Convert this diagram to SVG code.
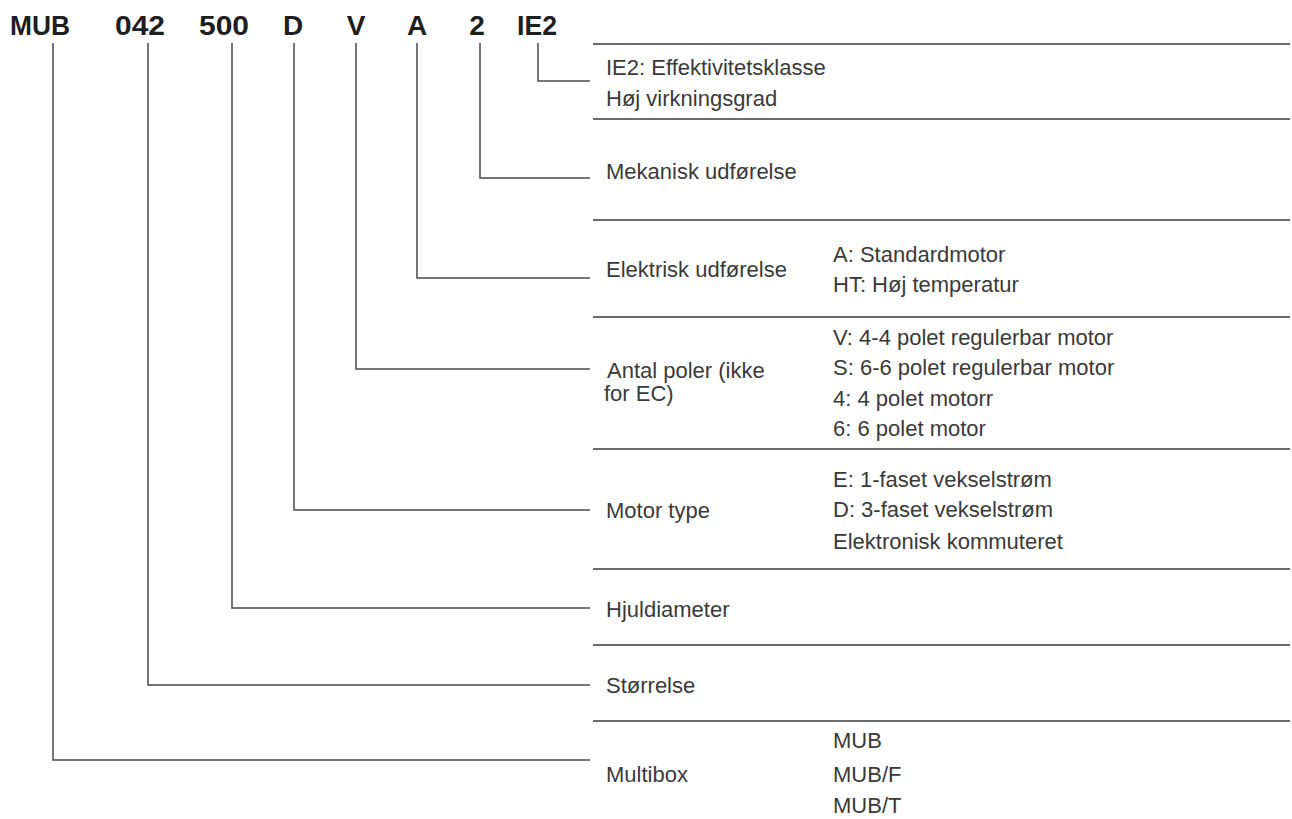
<svg xmlns="http://www.w3.org/2000/svg" width="1292" height="819" viewBox="0 0 1292 819">
<style>
.code{font-family:"Liberation Sans",Arial,sans-serif;font-weight:bold;font-size:28px;fill:#1e1e1e}
.t{font-family:"Liberation Sans",Arial,sans-serif;font-size:22px;fill:#3a3a3a}
.sep{stroke:#3a3a3a;stroke-width:1.6;fill:none}
.con{stroke:#4a4a4a;stroke-width:1.5;fill:none}
</style>
<rect width="1292" height="819" fill="#ffffff"/>
<g id="code">
<text class="code" x="10" y="35" textLength="60" lengthAdjust="spacingAndGlyphs">MUB</text>
<text class="code" x="115" y="35" textLength="50" lengthAdjust="spacingAndGlyphs">042</text>
<text class="code" x="199" y="35" textLength="50" lengthAdjust="spacingAndGlyphs">500</text>
<text class="code" x="293" y="35" text-anchor="middle">D</text>
<text class="code" x="356" y="35" text-anchor="middle">V</text>
<text class="code" x="417" y="35" text-anchor="middle">A</text>
<text class="code" x="477" y="35" text-anchor="middle">2</text>
<text class="code" x="517" y="35" textLength="40" lengthAdjust="spacingAndGlyphs">IE2</text>
</g>
<g id="separators">
<line class="sep" x1="593" y1="44" x2="1290" y2="44"/>
<line class="sep" x1="593" y1="119" x2="1290" y2="119"/>
<line class="sep" x1="593" y1="220" x2="1290" y2="220"/>
<line class="sep" x1="593" y1="317" x2="1290" y2="317"/>
<line class="sep" x1="593" y1="449" x2="1290" y2="449"/>
<line class="sep" x1="593" y1="569" x2="1290" y2="569"/>
<line class="sep" x1="593" y1="645" x2="1290" y2="645"/>
<line class="sep" x1="593" y1="721" x2="1290" y2="721"/>
</g>
<g id="connectors">
<polyline class="con" points="538,43 538,81 590,81"/>
<polyline class="con" points="480,43 480,178 590,178"/>
<polyline class="con" points="417,43 417,278 590,278"/>
<polyline class="con" points="356,43 356,369 590,369"/>
<polyline class="con" points="294,43 294,510 590,510"/>
<polyline class="con" points="232,43 232,608 590,608"/>
<polyline class="con" points="148,43 148,685 590,685"/>
<polyline class="con" points="53,43 53,760 590,760"/>
</g>
<g id="row-ie2">
<text class="t" x="606" y="75">IE2: Effektivitetsklasse</text>
<text class="t" x="606" y="106">Høj virkningsgrad</text>
</g>
<g id="row-mekanisk">
<text class="t" x="606" y="179">Mekanisk udførelse</text>
</g>
<g id="row-elektrisk">
<text class="t" x="606" y="277">Elektrisk udførelse</text>
<text class="t" x="833" y="262">A: Standardmotor</text>
<text class="t" x="833" y="292">HT: Høj temperatur</text>
</g>
<g id="row-poler">
<text class="t" x="607" y="378">Antal poler (ikke</text>
<text class="t" x="604" y="401">for EC)</text>
<text class="t" x="833" y="345">V: 4-4 polet regulerbar motor</text>
<text class="t" x="833" y="375">S: 6-6 polet regulerbar motor</text>
<text class="t" x="833" y="406">4: 4 polet motorr</text>
<text class="t" x="833" y="436">6: 6 polet motor</text>
</g>
<g id="row-motortype">
<text class="t" x="606" y="518">Motor type</text>
<text class="t" x="833" y="487">E: 1-faset vekselstrøm</text>
<text class="t" x="833" y="517">D: 3-faset vekselstrøm</text>
<text class="t" x="833" y="549">Elektronisk kommuteret</text>
</g>
<g id="row-hjul">
<text class="t" x="606" y="617">Hjuldiameter</text>
</g>
<g id="row-storrelse">
<text class="t" x="606" y="693">Størrelse</text>
</g>
<g id="row-multibox">
<text class="t" x="606" y="782">Multibox</text>
<text class="t" x="833" y="748">MUB</text>
<text class="t" x="833" y="782">MUB/F</text>
<text class="t" x="833" y="813">MUB/T</text>
</g>
</svg>
